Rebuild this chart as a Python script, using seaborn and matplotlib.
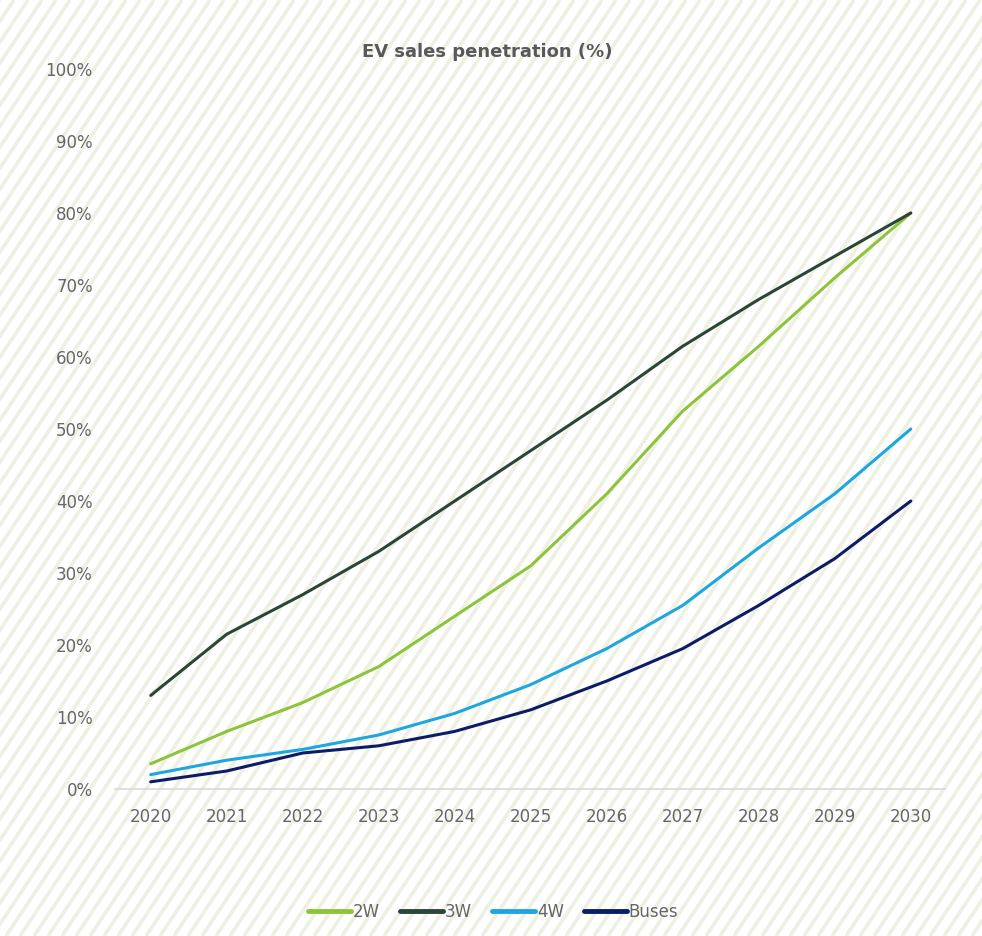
import numpy as np
import pandas as pd
import matplotlib.pyplot as plt
import matplotlib.ticker as ticker
import seaborn as sns

years = [2020, 2021, 2022, 2023, 2024, 2025, 2026, 2027, 2028, 2029, 2030]
two_w = [3.5, 8, 12, 17, 24, 31, 41, 52.5, 61.5, 71, 80]
three_w = [13, 21.5, 27, 33, 40, 47, 54, 61.5, 68, 74, 80]
four_w = [2, 4, 5.5, 7.5, 10.5, 14.5, 19.5, 25.5, 33.5, 41, 50]
buses = [1, 2.5, 5, 6, 8, 11, 15, 19.5, 25.5, 32, 40]

segments = ["2W", "3W", "4W", "Buses"]
colors = ["#8cc43c", "#2b4536", "#1ea6df", "#0c1c66"]

df = pd.DataFrame({"year": years, "2W": two_w, "3W": three_w, "4W": four_w, "Buses": buses})
long_df = df.melt(id_vars="year", var_name="segment", value_name="share")

sns.set_theme(style="white")
plt.rcParams['font.family'] = ['DejaVu Sans']

W, H = 982, 936
fig = plt.figure(figsize=(W / 100, H / 100), dpi=100)

# striped background (decoration only)
bg = fig.add_axes([0, 0, 1, 1], zorder=-5)
bg.set_xlim(0, W)
bg.set_ylim(0, H)
bg.axis("off")
slope = 1.5
for x0 in np.arange(-H / slope, W, 14):
    bg.plot([x0, x0 + H / slope], [0, H], color="#eef0e1", linewidth=2.6, solid_capstyle="butt")

ax = fig.add_axes([115 / W, 1 - 789 / H, 830 / W, 720 / H])
ax.patch.set_alpha(0)

sns.lineplot(data=long_df, x="year", y="share", hue="segment", hue_order=segments,
             palette=colors, linewidth=2.2, ax=ax, legend=False)

ax.set_ylim(0, 100)
ax.set_xlim(2019.53, 2030.45)
ax.set_xticks(years)
ax.set_yticks(range(0, 101, 10))
ax.yaxis.set_major_formatter(ticker.FuncFormatter(lambda v, p: f"{v:.0f}%"))
ax.tick_params(axis="both", colors="#666666", labelsize=12, length=0)
ax.tick_params(axis="x", pad=14)
ax.tick_params(axis="y", pad=16)
for s in ["top", "right", "left"]:
    ax.spines[s].set_visible(False)
ax.spines["bottom"].set_color("#d9d9d9")
ax.spines["bottom"].set_linewidth(1.2)
ax.set_xlabel("")
ax.set_ylabel("")

fig.text(487 / W, 1 - 52 / H, "EV sales penetration (%)", ha="center", va="center",
         fontsize=13, fontweight="bold", color="#595959")

handles = [plt.Line2D([0], [0], color=c, linewidth=3.5) for c in colors]
fig.legend(handles, segments, loc="center", bbox_to_anchor=(493 / W, 1 - 912 / H), ncol=4,
           frameon=False, fontsize=12, handlelength=2.6, handletextpad=0.1,
           columnspacing=1.2, labelcolor="#666666")

fig.savefig("out.png", dpi=100)
